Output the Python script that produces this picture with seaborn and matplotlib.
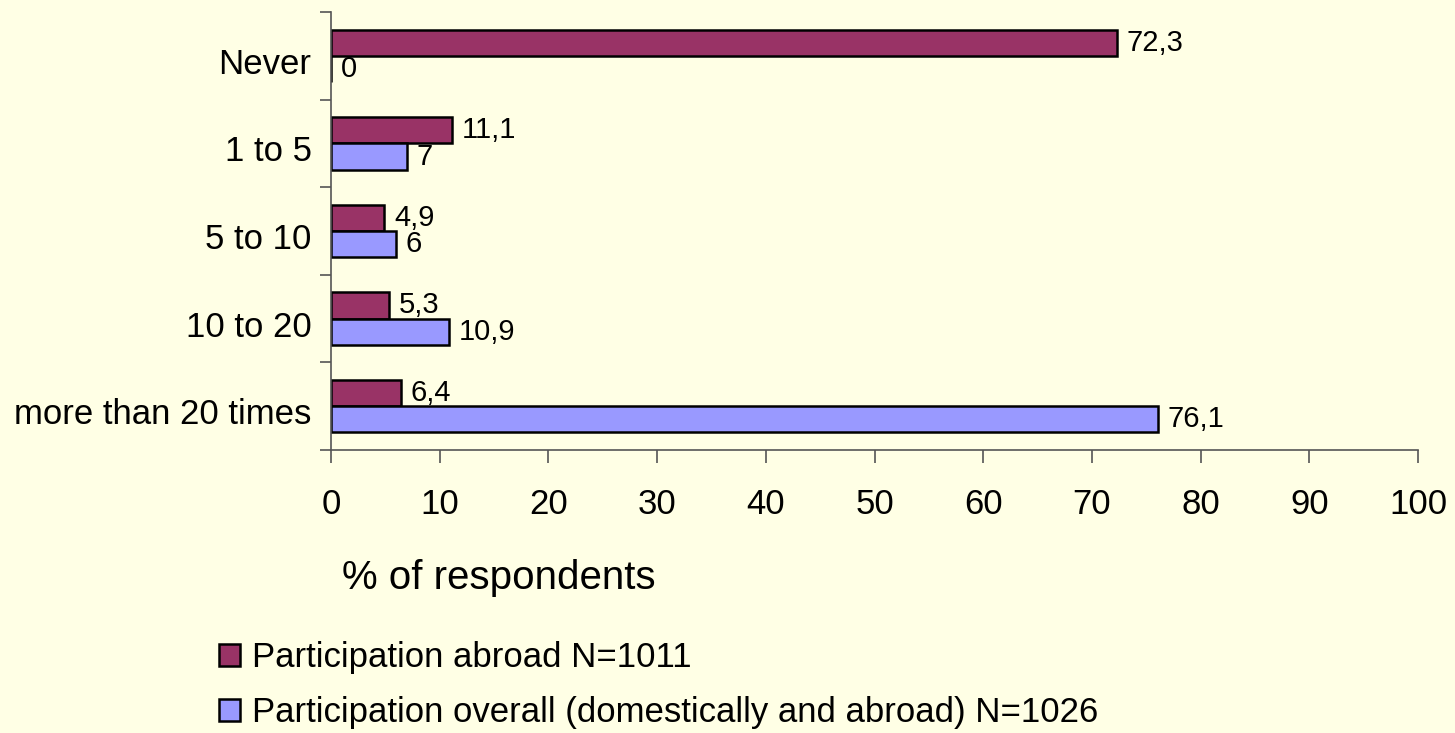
import matplotlib
matplotlib.use("Agg")
import matplotlib.pyplot as plt
import seaborn as sns
import pandas as pd
from matplotlib.patches import Patch
from matplotlib.transforms import ScaledTranslation

categories = ["Never", "1 to 5", "5 to 10", "10 to 20", "more than 20 times"]
series_names = ["Participation abroad N=1011",
                "Participation overall (domestically and abroad) N=1026"]
abroad = [72.3, 11.1, 4.9, 5.3, 6.4]
overall = [0, 7, 6, 10.9, 76.1]
colors = ["#993366", "#9999FF"]
xticks = [0, 10, 20, 30, 40, 50, 60, 70, 80, 90, 100]

df = pd.DataFrame({
    "category": categories * 2,
    "value": abroad + overall,
    "series": [series_names[0]] * 5 + [series_names[1]] * 5,
})

bg = "#FFFFE5"
sns.set_theme(style="white")
plt.rcParams["font.family"] = ["Liberation Sans", "DejaVu Sans"]
plt.rcParams["text.color"] = "black"
plt.rcParams["xtick.color"] = "black"
plt.rcParams["ytick.color"] = "black"
plt.rcParams["axes.labelcolor"] = "black"

fig = plt.figure(figsize=(14.55, 7.33), dpi=100, facecolor=bg)
ax = fig.add_axes([331 / 1455, 1 - 450 / 733, (1418 - 331) / 1455, (450 - 12) / 733])
ax.set_facecolor(bg)

sns.barplot(data=df, y="category", x="value", hue="series", orient="h",
            order=categories, hue_order=series_names, palette=colors,
            edgecolor="black", linewidth=1.8, width=0.6, ax=ax, legend=False,
            saturation=1)

def fmt(v):
    return ("%g" % v).replace(".", ",")

for cont, vals in zip(ax.containers, [abroad, overall]):
    ax.bar_label(cont, labels=[fmt(v) for v in vals], padding=7, fontsize=21,
                 color="black")

ax.set_xlim(0, 100)
ax.set_ylim(4.5, -0.5)
ax.set_xticks(xticks)
ax.set_xticklabels([str(t) for t in xticks], fontsize=25)
ax.set_yticks([i - 0.5 for i in range(len(categories) + 1)])
ax.set_yticklabels([])
ax.set_yticks(range(len(categories)), minor=True)
ax.set_yticklabels(categories, minor=True, fontsize=25)
ax.tick_params(axis="y", which="minor", length=0, pad=14)
ax.tick_params(axis="y", which="major", length=8, width=1.2, color="#555555",
               direction="out", left=True)
ax.tick_params(axis="x", which="major", length=9, width=1.2, color="#555555",
               direction="out", bottom=True, pad=18)
shift = ScaledTranslation(0, -0.05, fig.dpi_scale_trans)
for lab in ax.get_yticklabels(minor=True):
    lab.set_transform(lab.get_transform() + shift)
for s in ["top", "right"]:
    ax.spines[s].set_visible(False)
for s in ["left", "bottom"]:
    ax.spines[s].set_color("#555555")
    ax.spines[s].set_linewidth(1.2)
ax.set_ylabel("")
ax.set_xlabel("% of respondents", fontsize=29)
ax.xaxis.set_label_coords((342 - 331) / (1418 - 331), (450 - 578) / 438)
ax.xaxis.label.set_horizontalalignment("left")
ax.xaxis.label.set_verticalalignment("center")

handles = [Patch(facecolor=c, edgecolor="black", linewidth=1.8) for c in colors]
fig.legend(handles, series_names, loc="center left",
           bbox_to_anchor=(219 / 1455, 1 - 685 / 733),
           frameon=False, fontsize=25, handlelength=0.6, handleheight=0.6,
           handletextpad=0.35, labelspacing=0.62, borderaxespad=0, borderpad=0)

fig.savefig("out.png", dpi=100, facecolor=bg)
